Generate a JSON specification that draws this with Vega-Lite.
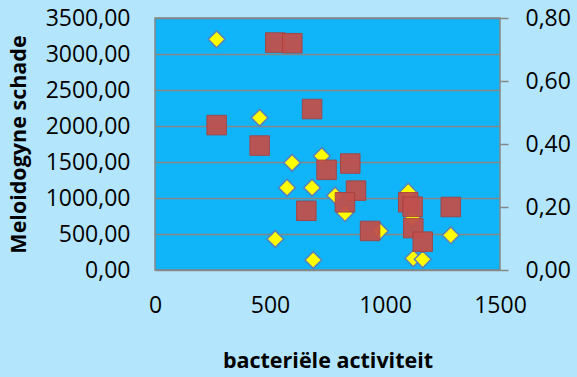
{
  "$schema": "https://vega.github.io/schema/vega-lite/v6.json",
  "width": 345,
  "height": 252,
  "autosize": {"type": "none"},
  "padding": {"left": 155, "top": 18, "right": 77, "bottom": 107},
  "background": "#b3e6fd",
  "config": {
    "view": {"fill": "#10b4f8", "stroke": "#868686", "strokeWidth": 1.5},
    "font": "Open Sans",
    "axis": {"labelFont": "Open Sans", "titleFont": "Open Sans", "labelFontSize": 23, "labelColor": "#000000", "titleColor": "#000000", "titleFontSize": 21.5, "titleFontWeight": "bold"}
  },
  "datasets": {
    "schade": [
      {"activiteit": 268, "schade": 3204},
      {"activiteit": 455, "schade": 2115},
      {"activiteit": 596, "schade": 1490},
      {"activiteit": 725, "schade": 1583},
      {"activiteit": 574, "schade": 1143},
      {"activiteit": 683, "schade": 1143},
      {"activiteit": 783, "schade": 1035},
      {"activiteit": 826, "schade": 790},
      {"activiteit": 1101, "schade": 1088},
      {"activiteit": 1120, "schade": 718},
      {"activiteit": 978, "schade": 541},
      {"activiteit": 523, "schade": 431},
      {"activiteit": 1286, "schade": 482},
      {"activiteit": 688, "schade": 139},
      {"activiteit": 1123, "schade": 162},
      {"activiteit": 1164, "schade": 148}
    ],
    "waarde": [
      {"activiteit": 523, "waarde": 0.722},
      {"activiteit": 597, "waarde": 0.720},
      {"activiteit": 683, "waarde": 0.511},
      {"activiteit": 268, "waarde": 0.460},
      {"activiteit": 455, "waarde": 0.395},
      {"activiteit": 849, "waarde": 0.338},
      {"activiteit": 746, "waarde": 0.318},
      {"activiteit": 874, "waarde": 0.252},
      {"activiteit": 826, "waarde": 0.215},
      {"activiteit": 658, "waarde": 0.188},
      {"activiteit": 1101, "waarde": 0.215},
      {"activiteit": 1120, "waarde": 0.201},
      {"activiteit": 1286, "waarde": 0.200},
      {"activiteit": 935, "waarde": 0.124},
      {"activiteit": 1123, "waarde": 0.133},
      {"activiteit": 1164, "waarde": 0.090}
    ]
  },
  "layer": [
    {
      "data": {"name": "schade"},
      "mark": {"type": "point", "shape": "diamond", "filled": true, "color": "#ffff00", "stroke": "#5b7fb8", "strokeWidth": 1.5, "size": 280, "opacity": 1},
      "encoding": {
        "x": {"field": "activiteit", "type": "quantitative", "scale": {"domain": [0, 1500], "nice": false},
          "axis": {"values": [0, 500, 1000, 1500], "format": "d", "grid": false, "ticks": false, "domain": false, "labelPadding": 24, "title": "bacteriële activiteit", "titlePadding": 33, "labelFlush": false}},
        "y": {"field": "schade", "type": "quantitative", "scale": {"domain": [0, 3500], "nice": false},
          "axis": {"orient": "left", "values": [0, 500, 1000, 1500, 2000, 2500, 3000, 3500], "grid": true, "gridColor": "#868686", "gridWidth": 1.5, "gridOpacity": 1, "ticks": false, "domain": false, "labelPadding": 25, "labelExpr": "replace(format(datum.value, '.2f'), '.', ',')", "title": "Meloidogyne schade", "titlePadding": 15, "labelFlush": false}}
      }
    },
    {
      "data": {"name": "waarde"},
      "mark": {"type": "point", "shape": "square", "filled": true, "color": "#c0504d", "stroke": "#a9423f", "strokeWidth": 1, "size": 380, "opacity": 0.95},
      "encoding": {
        "x": {"field": "activiteit", "type": "quantitative"},
        "y": {"field": "waarde", "type": "quantitative", "scale": {"domain": [0, 0.8], "nice": false},
          "axis": {"orient": "right", "values": [0, 0.2, 0.4, 0.6, 0.8], "grid": false, "ticks": true, "tickSize": 8, "tickColor": "#868686", "tickWidth": 1.5, "domain": false, "labelPadding": 17, "labelExpr": "replace(format(datum.value, '.2f'), '.', ',')", "title": null, "labelFlush": false}}
      }
    }
  ],
  "resolve": {"scale": {"y": "independent"}}
}
